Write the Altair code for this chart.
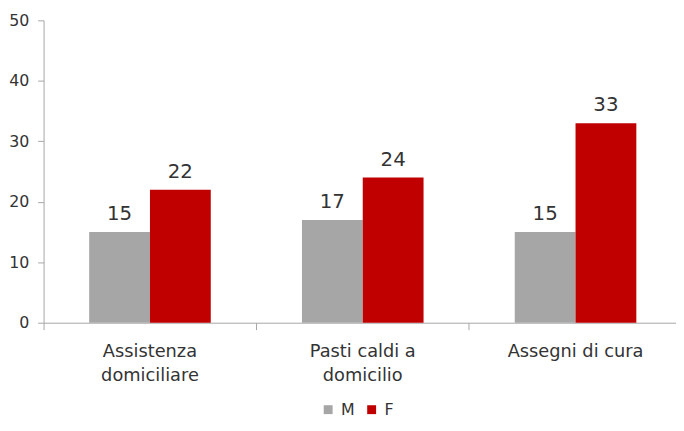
import altair as alt
import pandas as pd

categories = ["Assistenza\ndomiciliare", "Pasti caldi a\ndomicilio", "Assegni di cura"]
series = ["M", "F"]
values_m = [15, 17, 15]
values_f = [22, 24, 33]
colors = ["#A6A6A6", "#C00000"]

rows = []
for c, m, f in zip(categories, values_m, values_f):
    rows.append({"cat": c, "sex": "M", "val": m})
    rows.append({"cat": c, "sex": "F", "val": f})
df = pd.DataFrame(rows)

FONT = "DejaVu Sans"
TXT = "#333333"
AX = "#A6A6A6"

x = alt.X("cat:N", sort=categories, title=None,
          scale=alt.Scale(paddingInner=0, paddingOuter=0),
          axis=alt.Axis(labelAngle=0, bandPosition=0, tickSize=7, tickColor=AX,
                        domainColor=AX, labelColor=TXT, labelFont=FONT, labelFontSize=18,
                        labelPadding=13, labelLineHeight=24,
                        labelExpr="split(datum.value, '\\n')"))
xo = alt.XOffset("sex:N", sort=series, scale=alt.Scale(paddingInner=0, paddingOuter=0.75))
y = alt.Y("val:Q", title=None,
          scale=alt.Scale(domain=[0, 50]),
          axis=alt.Axis(values=[0, 10, 20, 30, 40, 50], grid=False, tickSize=6, tickColor=AX,
                        domainColor=AX, labelColor=TXT, labelFont=FONT, labelFontSize=16,
                        labelPadding=9))
color = alt.Color("sex:N", sort=series,
                  scale=alt.Scale(domain=series, range=colors),
                  legend=alt.Legend(title=None, orient="none", legendX=280, legendY=386,
                                    direction="horizontal", symbolType="square",
                                    symbolSize=81, symbolStrokeWidth=0,
                                    labelFont=FONT, labelFontSize=16, labelColor=TXT,
                                    columnPadding=9, labelOffset=5))

base = alt.Chart(df)
bars = base.mark_bar().encode(x=x, xOffset=xo, y=y, color=color)
labels = base.mark_text(baseline="bottom", dy=-8, font=FONT, fontSize=20, color=TXT).encode(
    x=x, xOffset=xo, y=y, text="val:Q")

chart = alt.layer(bars, labels).properties(
    width=646, height=306,
    autosize=alt.AutoSizeParams(type="none"),
    padding={"left": 36, "top": 10, "right": -6, "bottom": 99},
).configure_view(stroke=None)

chart.save("out.html", embed_options={"renderer": "svg", "actions": False})
